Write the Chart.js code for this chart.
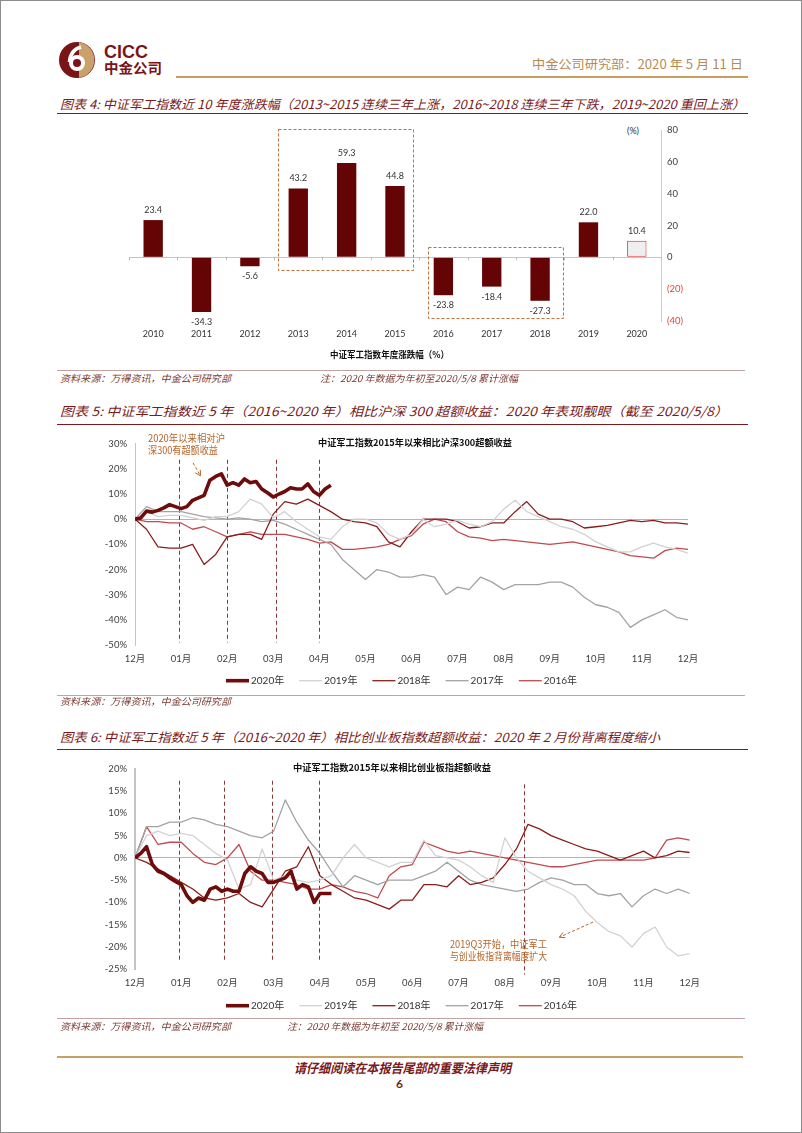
<!DOCTYPE html>
<html>
<head>
<meta charset="utf-8">
<script src="https://cdn.jsdelivr.net/npm/chart.js@4.4.0/dist/chart.umd.min.js"></script>
<style>
html, body { margin: 0; padding: 0; background: #fff; }
#page { position: relative; width: 802px; height: 1133px; overflow: hidden; background: #fff; }
#frame { position: absolute; left: 0; top: 0; width: 800px; height: 1131px; border: 1px solid #8c8c8c; }
.t { position: absolute; white-space: nowrap; line-height: 1; font-family: "Noto Sans CJK SC", sans-serif; transform-origin: left center; }
.fig { font-style: italic; color: #7b1a1a; font-size: 12.5px; }
.note { font-style: italic; color: #7a3a30; font-size: 9.5px; }
.anno { color: #b5652a; font-size: 10.5px; }
.ctitle { font-weight: bold; color: #111; font-size: 9.5px; }
.rule { position: absolute; height: 0; }
canvas { position: absolute; }
</style>
</head>
<body>
<div id="page">
  <div id="frame"></div>

  <!-- header -->
  <svg style="position:absolute;left:58px;top:41px" width="38" height="38" viewBox="0 0 38 38">
    <circle cx="19" cy="19" r="18" fill="#7b1416"/>
    <path d="M21 1.2 A18 18 0 0 1 21 36.8 Z" fill="#c9a26b"/>
    <circle cx="19" cy="22" r="8" fill="#fff"/>
    <circle cx="19" cy="22" r="4" fill="#7b1416"/>
    <path d="M11.5 21 C12 13 16 8 23 6" stroke="#fff" stroke-width="3.5" fill="none"/>
  </svg>
  <div class="t" style="left:104px;top:43px;font-family:'Liberation Sans',Arial,sans-serif;font-weight:bold;font-size:18px;color:#7b1416;">CICC</div>
  <div class="t" style="left:104px;top:60px;font-weight:bold;font-size:14px;color:#7b1416;" data-w="58">中金公司</div>
  <div class="t" style="left:532px;top:58px;font-size:12.5px;color:#b58a55;" data-w="211">中金公司研究部：2020 年 5 月 11 日</div>
  <div class="rule" style="left:176px;top:76px;width:572px;border-top:2px solid #c9a063;"></div>

  <!-- figure 4 -->
  <div class="t fig" style="left:60px;top:97.5px;" data-w="685">图表 4: 中证军工指数近 10 年度涨跌幅（2013~2015 连续三年上涨，2016~2018 连续三年下跌，2019~2020 重回上涨）</div>
  <div class="rule" style="left:57px;top:113px;width:691px;border-top:1.5px solid #7b1a1a;"></div>
  <div class="t" style="left:627px;top:126px;font-size:9px;color:#333;font-family:Lato,'Noto Sans CJK SC',sans-serif;">(%)</div>
  <canvas id="c1" width="600" height="250" style="left:100px;top:118px;"></canvas>
  <div class="t ctitle" style="left:330px;top:350px;" data-w="119">中证军工指数年度涨跌幅（%）</div>
  <div class="rule" style="left:57px;top:370px;width:688px;border-top:1.5px solid #bfa2a2;"></div>
  <div class="t note" style="left:60px;top:374px;" data-w="171">资料来源：万得资讯，中金公司研究部</div>
  <div class="t note" style="left:320px;top:374px;" data-w="198">注：2020 年数据为年初至2020/5/8 累计涨幅</div>

  <!-- figure 5 -->
  <div class="t fig" style="left:60px;top:405px;" data-w="668">图表 5: 中证军工指数近 5 年（2016~2020 年）相比沪深 300 超额收益：2020 年表现靓眼（截至 2020/5/8）</div>
  <div class="rule" style="left:57px;top:424px;width:691px;border-top:1.5px solid #7b1a1a;"></div>
  <canvas id="c2" width="600" height="265" style="left:100px;top:430px;"></canvas>
  <div class="t ctitle" style="left:318px;top:438px;" data-w="194">中证军工指数2015年以来相比沪深300超额收益</div>
  <div class="t anno" style="left:148px;top:432.5px;" data-w="77">2020年以来相对沪</div>
  <div class="t anno" style="left:148px;top:445px;" data-w="70">深300有超额收益</div>
  <div class="rule" style="left:57px;top:695px;width:688px;border-top:1.5px solid #bfa2a2;"></div>
  <div class="t note" style="left:60px;top:697px;" data-w="171">资料来源：万得资讯，中金公司研究部</div>

  <!-- figure 6 -->
  <div class="t fig" style="left:60px;top:731px;" data-w="600">图表 6: 中证军工指数近 5 年（2016~2020 年）相比创业板指数超额收益：2020 年 2 月份背离程度缩小</div>
  <div class="rule" style="left:57px;top:749px;width:691px;border-top:1.5px solid #7b1a1a;"></div>
  <canvas id="c3" width="600" height="265" style="left:100px;top:755px;"></canvas>
  <div class="t ctitle" style="left:293px;top:762.5px;" data-w="198">中证军工指数2015年以来相比创业板指超额收益</div>
  <div class="t anno" style="left:450px;top:938.5px;" data-w="97">2019Q3开始，中证军工</div>
  <div class="t anno" style="left:450px;top:951px;" data-w="97">与创业板指背离幅度扩大</div>
  <div class="rule" style="left:57px;top:1018px;width:688px;border-top:1.5px solid #bfa2a2;"></div>
  <div class="t note" style="left:60px;top:1021.5px;" data-w="171">资料来源：万得资讯，中金公司研究部</div>
  <div class="t note" style="left:287px;top:1021.5px;" data-w="196">注：2020 年数据为年初至 2020/5/8 累计涨幅</div>

  <!-- footer -->
  <div class="rule" style="left:57px;top:1056px;width:686px;border-top:2.5px solid #c9a063;"></div>
  <div class="t" style="left:294px;top:1061px;font-size:13px;font-weight:bold;font-style:italic;color:#7b1a1a;" data-w="217">请仔细阅读在本报告尾部的重要法律声明</div>
  <div class="t" style="left:396px;top:1078px;font-size:12px;font-weight:bold;color:#7b1a1a;font-family:Lato,'Noto Sans CJK SC',sans-serif;">6</div>
</div>

<script>
// ---- data: figure 4, yearly return of the defence index (%)
const years = ['2010', '2011', '2012', '2013', '2014', '2015', '2016', '2017', '2018', '2019', '2020'];
const yearReturns = [23.4, -34.3, -5.6, 43.2, 59.3, 44.8, -23.8, -18.4, -27.3, 22.0, 10.4];
const yearTicks = [80, 60, 40, 20, 0, -20, -40];

// ---- shared x grid for the yearly lines (month offset from the Dec start)
const monthTicks = ['12月', '01月', '02月', '03月', '04月', '05月', '06月', '07月', '08月', '09月', '10月', '11月', '12月'];
const weekGrid = [0, 0.25, 0.5, 0.75, 1, 1.25, 1.5, 1.75, 2, 2.25, 2.5, 2.75, 3, 3.25, 3.5, 3.75, 4, 4.25, 4.5, 4.75,
  5, 5.25, 5.5, 5.75, 6, 6.25, 6.5, 6.75, 7, 7.25, 7.5, 7.75, 8, 8.25, 8.5, 8.75, 9, 9.25, 9.5, 9.75,
  10, 10.25, 10.5, 10.75, 11, 11.25, 11.5, 11.75, 12];
const grid2020 = [0, 0.125, 0.25, 0.375, 0.5, 0.625, 0.75, 0.875, 1, 1.125, 1.25, 1.375, 1.5, 1.625, 1.75, 1.875,
  2, 2.125, 2.25, 2.375, 2.5, 2.625, 2.75, 2.875, 3, 3.125, 3.25, 3.375, 3.5, 3.625, 3.75, 3.875, 4, 4.125, 4.25];
const seriesLabels = ['2020年', '2019年', '2018年', '2017年', '2016年'];

// ---- data: figure 5, excess return vs CSI 300 (%)
const hs300_2020 = [0, 0.5, 3.2, 2.8, 3.5, 4.5, 5.8, 5, 4.2, 5, 7.5, 8.5, 9.5, 15.5, 17, 18, 13.5,
  14.5, 13.5, 16, 14.5, 15, 12, 10.5, 8.8, 10, 11, 12.5, 12, 12, 14, 11, 9.5, 12, 13.5];
const hs300_2019 = [0, 3, 1, 1.5, 1.5, 0.5, -0.5, 1, 1, 3, 8, 6, 0.5, 3, -1, -4, -7, -8, -3, 0,
  0, -1.5, -6, -8, -6, 0, -3, -2, -0.5, -2, -3, -1, 4, 7.5, 3, 1, -1, -3, -4, -6,
  -9, -11, -13, -13, -11, -9.5, -11, -12, -13.5];
const hs300_2018 = [0, -4, -11, -11.5, -11.5, -10, -18, -14, -7, -6, -6, -8, 2, 7, 6, 8, 5.5, 3, 0, -1,
  -1.5, -3, -9, -11, -5, 0, 0, 0, -1, -3.5, -3, -1.5, -1.5, 3, 7, 2, 0, 0, -1, -3.5,
  -3, -2.5, -1.5, -0.5, -1, -0.5, -1.5, -1.5, -2];
const hs300_2017 = [0, 5, 3, 3, 3, 2, 1, 0.5, 0, 0.5, 0, -1, -0.5, -2, -4, -6, -8, -10, -16, -20,
  -24, -20, -21, -23, -23, -22, -23, -30, -27, -28, -23, -25, -28, -26, -26, -26, -25, -25, -27, -31,
  -34, -35, -37, -43, -40, -38, -36, -39, -40];
const hs300_2016 = [0, -1, -1, -1.5, -1.5, -4, -3, -5, -7, -6, -5, -6, -6, -6, -7, -8, -9.5, -9, -12, -12,
  -11.5, -11, -10, -8, -6.5, -2, 0, -1, -5, -7, -7.5, -8.5, -8, -8.5, -9, -9.5, -10, -9.5, -9, -10,
  -11, -12, -13, -14.5, -15, -15.5, -12.5, -11.5, -12];
const hs300Ticks = [30, 20, 10, 0, -10, -20, -30, -40, -50];

// ---- data: figure 6, excess return vs ChiNext (%)
const cyb_2020 = [0, 1, 2.5, -1.5, -3, -3.5, -4.5, -5.3, -6, -8.5, -10, -9, -9.5, -7, -6.5, -7.5, -7,
  -7.5, -7.5, -3.5, -2, -3, -3.5, -5.5, -5.5, -5, -4.5, -3, -7, -6, -6.5, -10, -8, -8, -8];
const cyb_2019 = [0, 5, 6, 5, 5.5, 5, 3, 1, -0.5, -7, -6, 2, -5, -4, -5, -5.5, -5, -4, 0, 3,
  0, -1, -2, -1, -1, 4, 0.5, 0, -0.5, -2, -4, -5.5, 4.5, 0, -3, -4.5, -6, -7, -8.5, -12,
  -14.5, -16.5, -17.5, -20, -17, -15.5, -20, -22, -21.5];
const cyb_2018 = [0, -1, -2.5, -4, -5.5, -7, -9, -9.5, -9, -8, -10, -11, -7, -3, -2, 2.5, -4, -6, -7.5, -9,
  -9.5, -10.5, -11.5, -9.5, -9.5, -6, -6, -6.5, -4, -6, -5.5, -4.5, -1.5, 2, 7.5, 6.5, 5, 4, 3, 2,
  1.5, 0.5, -0.5, 0.5, 1.5, 0, 0.5, 1.5, 1.2];
const cyb_2017 = [0, 7, 7, 8, 8, 9, 8.5, 7.5, 7, 6, 5, 4.5, 6, 13, 8, 4, 1, -3, -6.5, -4,
  -5, -6, -5, -5, -5, -4, -3, -1, -3, -5, -6, -6.5, -7, -7.5, -7, -5.5, -4.5, -5, -6, -6,
  -8, -8.5, -8, -11, -8.5, -7, -8, -7, -8];
const cyb_2016 = [0, 7, 3, 3.5, 3.5, 1, -1, -1.5, 0, 3, -3, -5, -5, -5.5, -6, -7, -7, -6, -6.5, -7.5,
  -8, -9, -4, -2, -1.5, 3.5, 2.5, 1.5, 1, 1.5, 1, 0.5, 0, -0.5, -1, -1.5, -2, -2, -1.5, -1,
  -0.5, -0.5, -0.5, -0.5, -0.5, 0, 4, 4.5, 4];
const cybTicks = [20, 15, 10, 5, 0, -5, -10, -15, -20, -25];

// ---- styling
const FONT = '"Lato","Noto Sans CJK SC",sans-serif';
Chart.defaults.font.family = FONT;
Chart.defaults.color = '#404040';
const lineColors = ['#6e0c0c', '#d2d2d2', '#8c1c1c', '#a3a3a3', '#bf4a4f'];
const lineWidths = [3.6, 1.3, 1.3, 1.3, 1.3];

function fitWidths() {
    document.querySelectorAll('[data-w]').forEach((el) => {
        const natural = el.getBoundingClientRect().width;
        if (natural > 0) el.style.transform = `scaleX(${Number(el.dataset.w) / natural})`;
    });
}

// value labels above / below the bars
const barLabels = {
    id: 'barLabels',
    afterDatasetsDraw(chart) {
        const ctx = chart.ctx;
        const meta = chart.getDatasetMeta(0);
        ctx.save();
        ctx.font = `9px ${FONT}`;
        ctx.fillStyle = '#333';
        ctx.textAlign = 'center';
        ctx.textBaseline = 'middle';
        meta.data.forEach((bar, i) => {
            const v = yearReturns[i];
            ctx.fillText(v.toFixed(1), bar.x, v >= 0 ? bar.y - 10 : bar.y + 10);
        });
        ctx.restore();
    }
};

// dashed frames round the 3-year runs + small ticks on the zero line
const yearBoxes = {
    id: 'yearBoxes',
    afterDatasetsDraw(chart, args, opts) {
        const ctx = chart.ctx;
        const xs = chart.scales.x;
        const ys = chart.scales.y;
        const step = xs.getPixelForValue(1) - xs.getPixelForValue(0);
        ctx.save();
        ctx.strokeStyle = '#c2703d';
        ctx.lineWidth = 1;
        ctx.setLineDash([3, 2]);
        opts.boxes.forEach((b) => {
            const x1 = xs.getPixelForValue(years.indexOf(b.from)) + b.padL * step;
            const x2 = xs.getPixelForValue(years.indexOf(b.to)) + b.padR * step;
            const y1 = ys.getPixelForValue(b.top);
            const y2 = ys.getPixelForValue(b.bottom);
            ctx.strokeRect(Math.round(x1) + 0.5, Math.round(y1) + 0.5, Math.round(x2 - x1), Math.round(y2 - y1));
        });
        ctx.setLineDash([]);
        ctx.strokeStyle = '#bdbdbd';
        const y0 = ys.getPixelForValue(0);
        for (let i = 0; i <= years.length; i++) {
            const x = Math.round(xs.getPixelForValue(i) - step / 2) + 0.5;
            ctx.beginPath();
            ctx.moveTo(x, y0);
            ctx.lineTo(x, y0 + 3);
            ctx.stroke();
        }
        ctx.restore();
    }
};

// dashed vertical markers on the line charts
const vMarkers = {
    id: 'vMarkers',
    beforeDatasetsDraw(chart, args, opts) {
        const ctx = chart.ctx;
        const xs = chart.scales.x;
        const ys = chart.scales.y;
        ctx.save();
        ctx.strokeStyle = '#8e3434';
        ctx.lineWidth = 1;
        ctx.setLineDash([4, 3]);
        opts.lines.forEach((l) => {
            const x = Math.round(xs.getPixelForValue(l.x)) + 0.5;
            ctx.beginPath();
            ctx.moveTo(x, ys.getPixelForValue(l.top));
            ctx.lineTo(x, ys.getPixelForValue(l.bottom));
            ctx.stroke();
        });
        ctx.restore();
    }
};

// dashed callout arrow
const callout = {
    id: 'callout',
    afterDatasetsDraw(chart, args, opts) {
        if (!opts.from) return;
        const ctx = chart.ctx;
        const xs = chart.scales.x;
        const ys = chart.scales.y;
        const x1 = xs.getPixelForValue(opts.from.x), y1 = ys.getPixelForValue(opts.from.y);
        const x2 = xs.getPixelForValue(opts.to.x), y2 = ys.getPixelForValue(opts.to.y);
        const ang = Math.atan2(y2 - y1, x2 - x1);
        ctx.save();
        ctx.strokeStyle = '#b5652a';
        ctx.lineWidth = 1;
        ctx.setLineDash([3, 2]);
        ctx.beginPath();
        ctx.moveTo(x1, y1);
        ctx.lineTo(x2, y2);
        ctx.stroke();
        ctx.setLineDash([]);
        ctx.beginPath();
        ctx.moveTo(x2 - 6 * Math.cos(ang - 0.5), y2 - 6 * Math.sin(ang - 0.5));
        ctx.lineTo(x2, y2);
        ctx.lineTo(x2 - 6 * Math.cos(ang + 0.5), y2 - 6 * Math.sin(ang + 0.5));
        ctx.stroke();
        ctx.restore();
    }
};

// one-row legend with short line keys
const lineLegend = {
    id: 'lineLegend',
    afterDraw(chart, args, opts) {
        const ctx = chart.ctx;
        const items = chart.data.datasets;
        ctx.save();
        ctx.font = `10px ${FONT}`;
        const widths = items.map((d) => 23 + 2 + ctx.measureText(d.label).width);
        const total = widths.reduce((a, b) => a + b, 0) + opts.gap * (items.length - 1);
        let x = opts.centerX - total / 2;
        items.forEach((d, i) => {
            ctx.strokeStyle = d.borderColor;
            ctx.lineWidth = d.borderWidth;
            ctx.beginPath();
            ctx.moveTo(x, opts.y);
            ctx.lineTo(x + 23, opts.y);
            ctx.stroke();
            ctx.fillStyle = '#333';
            ctx.textBaseline = 'middle';
            ctx.fillText(d.label, x + 25, opts.y);
            x += widths[i] + opts.gap;
        });
        ctx.restore();
    }
};

function renderBars() {
    new Chart(document.getElementById('c1'), {
        type: 'bar',
        data: {
            labels: years,
            datasets: [{
                data: yearReturns,
                backgroundColor: years.map((y) => (y === '2020' ? '#efefef' : '#640404')),
                borderColor: years.map((y) => (y === '2020' ? '#e2262a' : '#640404')),
                borderWidth: years.map((y) => (y === '2020' ? 1 : 0)),
                borderSkipped: false,
                barPercentage: 0.4,
                categoryPercentage: 1
            }]
        },
        plugins: [barLabels, yearBoxes],
        options: {
            responsive: false,
            animation: false,
            layout: { padding: { left: 29, top: 12, right: 0, bottom: 17 } },
            plugins: {
                legend: { display: false },
                tooltip: { enabled: false },
                yearBoxes: {
                    boxes: [
                        { from: '2013', to: '2015', padL: -0.42, padR: 0.38, top: 80.5, bottom: -7.8 },
                        { from: '2016', to: '2018', padL: -0.31, padR: 0.48, top: 6.8, bottom: -38 }
                    ]
                }
            },
            scales: {
                x: {
                    grid: { display: false },
                    border: { display: false },
                    ticks: { font: { size: 9 }, color: '#333', padding: 0, maxRotation: 0 },
                    afterFit: (s) => { s.height = 30; }
                },
                y: {
                    position: 'right',
                    min: -40,
                    max: 80,
                    afterBuildTicks: (s) => { s.ticks = yearTicks.map((v) => ({ value: v })); },
                    ticks: {
                        font: { size: 9.5 },
                        padding: 6,
                        callback: (v) => (v < 0 ? `(${-v})` : `${v}`),
                        color: (c) => (c.tick && c.tick.value < 0 ? '#e8403a' : '#404040')
                    },
                    grid: { drawTicks: false, color: (c) => (c.tick && c.tick.value === 0 ? '#c4c4c4' : 'rgba(0,0,0,0)') },
                    border: { display: true, color: '#cfcfcf' },
                    afterFit: (s) => { s.width = 39; }
                }
            }
        }
    });
}

function pts(grid, values) {
    return values.map((v, i) => ({ x: grid[i], y: v }));
}

function renderLines(id, seriesList, yTicks, pad, extra) {
    const grids = [grid2020, weekGrid, weekGrid, weekGrid, weekGrid];
    new Chart(document.getElementById(id), {
        type: 'line',
        data: {
            datasets: seriesList.map((vals, i) => ({
                label: seriesLabels[i],
                data: pts(grids[i], vals),
                borderColor: lineColors[i],
                borderWidth: lineWidths[i],
                pointRadius: 0,
                tension: 0,
                fill: false,
                borderJoinStyle: 'round'
            }))
        },
        plugins: [vMarkers, callout, lineLegend],
        options: {
            responsive: false,
            animation: false,
            layout: { padding: pad },
            plugins: {
                legend: { display: false },
                tooltip: { enabled: false },
                vMarkers: { lines: extra.markers },
                callout: extra.arrow,
                lineLegend: { y: 250.7, centerX: 301.5, gap: 15 }
            },
            scales: {
                x: {
                    type: 'linear',
                    min: 0,
                    max: 12,
                    grid: { display: false },
                    border: { display: false },
                    afterBuildTicks: (s) => { s.ticks = monthTicks.map((m, i) => ({ value: i })); },
                    ticks: { font: { size: 9.5 }, color: '#404040', padding: 0, maxRotation: 0, autoSkip: false,
                        callback: (v) => monthTicks[v] },
                    afterFit: (s) => { s.height = 30; }
                },
                y: {
                    min: yTicks[yTicks.length - 1],
                    max: yTicks[0],
                    afterBuildTicks: (s) => { s.ticks = yTicks.map((v) => ({ value: v })); },
                    ticks: { font: { size: 9.5 }, color: '#404040', padding: 8, callback: (v) => `${v}%` },
                    grid: { drawTicks: false, color: (c) => (c.tick && c.tick.value === 0 ? '#b4b4b4' : 'rgba(0,0,0,0)') },
                    border: { display: true, color: '#c4c4c4', width: extra.axisWidth },
                    afterFit: (s) => { s.width = 35; }
                }
            }
        }
    });
}

fitWidths();
renderBars();
renderLines('c2', [hs300_2020, hs300_2019, hs300_2018, hs300_2017, hs300_2016], hs300Ticks,
    { left: 0, top: 10.7, right: 12, bottom: 20 },
    {
        axisWidth: 1,
        markers: [
            { x: 0.955, top: 23.6, bottom: -49 },
            { x: 2.0, top: 23.6, bottom: -49 },
            { x: 3.07, top: 23.6, bottom: -49 },
            { x: 3.99, top: 23.6, bottom: -49 }
        ],
        arrow: { from: { x: 1.26, y: 22.4 }, to: { x: 1.42, y: 17.2 } }
    });
renderLines('c3', [cyb_2020, cyb_2019, cyb_2018, cyb_2017, cyb_2016], cybTicks,
    { left: 0, top: 9.3, right: 10, bottom: 20.7 },
    {
        axisWidth: 2,
        markers: [
            { x: 0.95, top: 17.3, bottom: -23.3 },
            { x: 1.93, top: 17.3, bottom: -23.3 },
            { x: 2.97, top: 17.3, bottom: -23.3 },
            { x: 3.99, top: 17.3, bottom: -23.3 },
            { x: 8.41, top: 16.5, bottom: -26.2 }
        ],
        arrow: { from: { x: 9.91, y: -14.4 }, to: { x: 9.18, y: -17.8 } }
    });
</script>
</body>
</html>
